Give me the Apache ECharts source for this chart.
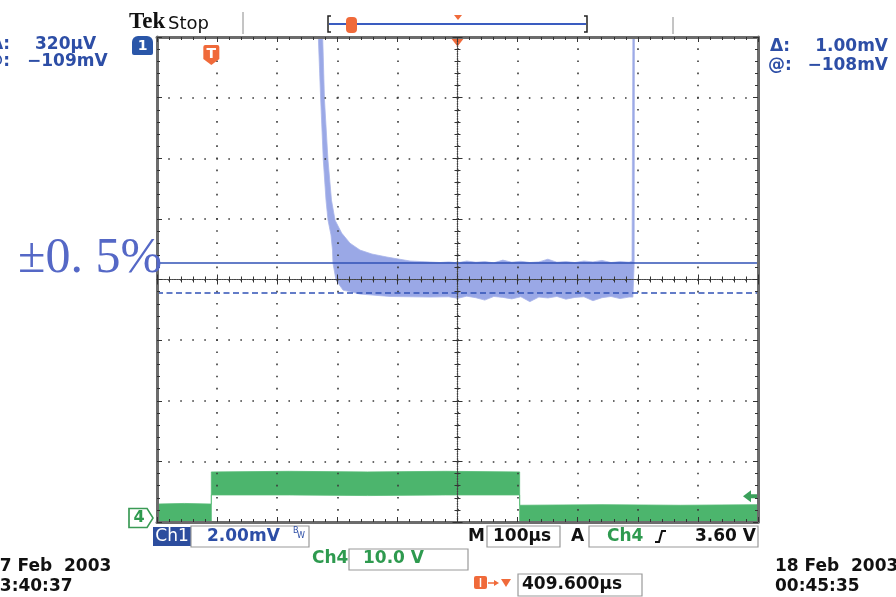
<!DOCTYPE html>
<html>
<head>
<meta charset="utf-8">
<script src="https://cdn.jsdelivr.net/npm/echarts@6/dist/echarts.min.js"></script>
<style>
  html, body { margin: 0; padding: 0; background: #fff; }
  #scope { width: 896px; height: 597px; }
</style>
</head>
<body>
<div id="scope"></div>
<script>
// ---- acquisition settings ----
const horizDelay = 409.6;          // µs from trigger to screen centre
const timePerDiv = 100;            // µs/div
const ch1PerDiv = 2;               // mV/div
const ch4PerDiv = 10;              // V/div
const ch4GroundDiv = -3.934;       // Ch4 ground marker position, div from centre
const triggerTime = 0;             // µs
const triggerLevel = 3.6;          // V on Ch4
const cursorLevels = [0.56, -0.44]; // mV, Δ = 1.00 mV

// ---- Ch1: settling envelope (time µs after trigger, mV) ----
const ch1UpperT = [183.6, 185.3, 188.3, 194.1, 199.9, 205.8, 216.9, 230.7, 247.4, 267.3, 292.3, 330.6, 380.5,
  395, 410, 425, 440, 455, 470, 485, 500, 515, 530, 545, 560, 575, 590, 605, 620, 635, 650, 665, 680, 695,
  700, 701.5];
const ch1UpperMv = [8.6, 8.0, 5.92, 3.94, 2.62, 1.96, 1.53, 1.20, 0.97, 0.84, 0.74, 0.61, 0.56,
  0.58, 0.55, 0.61, 0.57, 0.59, 0.55, 0.64, 0.57, 0.60, 0.56, 0.58, 0.67, 0.57, 0.59, 0.56, 0.61, 0.58, 0.63, 0.56, 0.59, 0.57,
  0.60, 8.6];
const ch1LowerT = [176.1, 178.0, 182.0, 186.3, 190.8, 194.1, 199.1, 201.6, 202.4, 207.4, 219.1, 247.4, 297.3, 363.8,
  395, 410, 425, 440, 455, 470, 485, 500, 515, 530, 545, 560, 575, 590, 605, 620, 635, 650, 665, 680, 695,
  701.5, 703.5, 704];
const ch1LowerMv = [8.6, 8.0, 5.92, 3.94, 2.62, 1.96, 1.47, 0.97, 0.54, -0.02, -0.35, -0.48, -0.56, -0.58,
  -0.57, -0.62, -0.55, -0.60, -0.68, -0.56, -0.59, -0.64, -0.57, -0.73, -0.58, -0.61, -0.56, -0.65, -0.59, -0.57, -0.70, -0.60, -0.56, -0.63, -0.58,
  -0.58, 0.5, 8.6];

// ---- Ch4: gate signal band (time µs after trigger, V) ----
const ch4T     = [-90.4, -45, 0, 0, 130, 260, 390, 513, 513, 650, 780, 909.6];
const ch4Upper = [2.3, 2.4, 2.3, 7.6, 7.7, 7.6, 7.7, 7.6, 2.1, 2.2, 2.1, 2.2];
const ch4Lower = [-1, -1, -1, 3.8, 3.8, 3.7, 3.8, 3.8, -1, -1, -1, -1];

// ---- derived axis ranges ----
const xMin = horizDelay - 5 * timePerDiv;
const xMax = horizDelay + 5 * timePerDiv;
const ch1Min = -4 * ch1PerDiv, ch1Max = 4 * ch1PerDiv;
const ch4Min = (-4 - ch4GroundDiv) * ch4PerDiv;
const ch4Max = ch4Min + 8 * ch4PerDiv;

const FONT = '"DejaVu Sans", sans-serif';
const BLUE_TXT = '#2d4ea6';
const GREEN_TXT = '#2e9a4f';
const ORANGE = '#f06a3a';

function bandRenderer(upT, upV, loT, loV, fill, edge) {
  return function (params, api) {
    const pts = [];
    for (let i = 0; i < upT.length; i++) pts.push(api.coord([upT[i], upV[i]]));
    for (let i = loT.length - 1; i >= 0; i--) pts.push(api.coord([loT[i], loV[i]]));
    return { type: 'polygon', shape: { points: pts }, style: { fill: fill, stroke: edge, lineWidth: 0.8 } };
  };
}

function txt(str, x, y, color, size, opts) {
  opts = opts || {};
  return {
    type: 'text', x: x, y: y, z: 20,
    style: {
      text: str, fill: color,
      font: (opts.weight || 'bold') + ' ' + size + 'px ' + (opts.family || FONT),
      textAlign: opts.align || 'left', textVerticalAlign: 'middle'
    }
  };
}
function box(x, y, w, h) {
  return { type: 'rect', shape: { x: x, y: y, width: w, height: h }, z: 19,
    style: { fill: 'none', stroke: '#9a9a9a', lineWidth: 1.2 } };
}
function seg(points, color, width) {
  return { type: 'polyline', shape: { points: points }, z: 20,
    style: { fill: 'none', stroke: color, lineWidth: width } };
}

// graticule axis helpers (grid 1, in divisions)
const frameLine = { show: true, onZero: false, lineStyle: { color: '#6c6c6c', width: 3 } };
const tickStyle = { color: '#333', width: 1 };
function frameX(pos, split) {
  return {
    gridIndex: 1, type: 'value', min: -5, max: 5, interval: 1, position: pos, z: 5,
    axisLine: frameLine,
    axisTick: { show: true, inside: true, length: 5, lineStyle: tickStyle },
    minorTick: { show: true, splitNumber: 5, length: 3, lineStyle: tickStyle },
    axisLabel: { show: false },
    splitLine: { show: split, lineStyle: { color: '#3a3a3a', width: 1.6, type: [1.6, 10.525], dashOffset: 0.8 } },
    minorSplitLine: { show: false }
  };
}
function frameY(pos, split) {
  return {
    gridIndex: 1, type: 'value', min: -4, max: 4, interval: 1, position: pos, z: 5,
    axisLine: frameLine,
    axisTick: { show: true, inside: true, length: 5, lineStyle: tickStyle },
    minorTick: { show: true, splitNumber: 5, length: 3, lineStyle: tickStyle },
    axisLabel: { show: false },
    splitLine: { show: split, lineStyle: { color: '#3a3a3a', width: 1.6, type: [1.6, 10.42], dashOffset: 0.8 } },
    minorSplitLine: { show: false }
  };
}
const centreLine = { color: '#444', width: 1.2, type: [1.2, 1.3] };
function centreX(pos) {
  return {
    gridIndex: 1, type: 'value', min: -5, max: 5, interval: 1, position: pos, z: 5,
    axisLine: { show: true, onZero: true, onZeroAxisIndex: 2, lineStyle: centreLine },
    axisTick: { show: true, inside: false, length: 5, lineStyle: tickStyle },
    minorTick: { show: true, splitNumber: 5, length: 3, lineStyle: tickStyle },
    axisLabel: { show: false }, splitLine: { show: false }
  };
}
function centreY(pos) {
  return {
    gridIndex: 1, type: 'value', min: -4, max: 4, interval: 1, position: pos, z: 5,
    axisLine: { show: true, onZero: true, onZeroAxisIndex: 1, lineStyle: centreLine },
    axisTick: { show: true, inside: false, length: 5, lineStyle: tickStyle },
    minorTick: { show: true, splitNumber: 5, length: 3, lineStyle: tickStyle },
    axisLabel: { show: false }, splitLine: { show: false }
  };
}

const plotRect = { left: 157, top: 37, width: 601, height: 485, outerBoundsMode: 'none', containLabel: false };

const option = {
  animation: false,
  backgroundColor: '#fff',
  grid: [Object.assign({}, plotRect), Object.assign({}, plotRect)],
  xAxis: [
    { gridIndex: 0, type: 'value', min: xMin, max: xMax, show: false },
    frameX('bottom', true),
    frameX('top', false),
    centreX('bottom'),
    centreX('top')
  ],
  yAxis: [
    { gridIndex: 0, type: 'value', min: ch1Min, max: ch1Max, show: false },
    { gridIndex: 0, type: 'value', min: ch4Min, max: ch4Max, show: false },
    frameY('left', true),
    frameY('right', false),
    centreY('left'),
    centreY('right')
  ],
  series: [
    {
      name: 'Ch4', type: 'custom', xAxisIndex: 0, yAxisIndex: 1, clip: true,
      data: [[0, 0]],
      renderItem: bandRenderer(ch4T, ch4Upper, ch4T, ch4Lower, '#4cb56d', '#56bb75')
    },
    {
      name: 'Ch1', type: 'custom', xAxisIndex: 0, yAxisIndex: 0, clip: true,
      data: [[0, 0]],
      renderItem: bandRenderer(ch1UpperT, ch1UpperMv, ch1LowerT, ch1LowerMv, '#9aa8e6', '#a9b5ea')
    },
    {
      // horizontal cursors, trigger and position markers (Ch1 scale)
      name: 'cursors', type: 'line', xAxisIndex: 0, yAxisIndex: 0, data: [], z: 6,
      markLine: {
        silent: true, symbol: ['none', 'none'], label: { show: false },
        lineStyle: { color: '#3152b6', width: 1.6 },
        data: [
          { yAxis: cursorLevels[0], lineStyle: { type: 'solid' } },
          { yAxis: cursorLevels[1], lineStyle: { type: [6, 3.5] } }
        ]
      },
      markPoint: {
        silent: true,
        data: [
          {
            coord: [triggerTime, ch1Max], symbol: 'path://M2,0 H14 Q16,0 16,2 V14 L8,20 L0,14 V2 Q0,0 2,0 Z',
            symbolSize: [16, 20], symbolKeepAspect: false, symbolOffset: [0, 18], itemStyle: { color: ORANGE },
            label: { show: true, formatter: 'T', color: '#fff', fontWeight: 'bold', fontSize: 14, fontFamily: FONT, offset: [0, -1] }
          },
          {
            coord: [horizDelay, ch1Max], symbol: 'path://M0,0 H14 L7,9 Z',
            symbolSize: [14, 9], symbolKeepAspect: false, symbolOffset: [0, 5], itemStyle: { color: ORANGE }, label: { show: false }
          }
        ]
      }
    },
    {
      // Ch4 ground reference and trigger level markers
      name: 'ch4marks', type: 'line', xAxisIndex: 0, yAxisIndex: 1, data: [], z: 6,
      markPoint: {
        silent: true,
        data: [
          {
            coord: [xMin, 0], symbol: 'path://M0,0 H18 L24,9 L18,18 H0 Z',
            symbolSize: [24, 19], symbolOffset: [-16, 0],
            itemStyle: { color: '#fff', borderColor: '#3a9a55', borderWidth: 1.5 },
            label: { show: true, formatter: '4', color: GREEN_TXT, fontWeight: 'bold', fontSize: 16, fontFamily: FONT, offset: [-2, 0] }
          },
          {
            coord: [xMax, triggerLevel], symbol: 'path://M0,6 L8,0 V4 H14 V8 H8 V12 Z',
            symbolSize: [14, 12], symbolOffset: [-8, 0], itemStyle: { color: '#3aa05a' }, label: { show: false }
          }
        ]
      }
    }
  ],
  graphic: { elements: [
    // header
    txt('Tek', 129, 22, '#111', 23, { family: '"Liberation Serif", serif' }),
    txt('Stop', 168, 24, '#111', 18, { weight: 'normal' }),
    seg([[243, 12], [243, 34]], '#8a8a8a', 1),
    seg([[673, 17], [673, 34]], '#8a8a8a', 1),
    seg([[331, 16], [328, 16], [328, 32], [331, 32]], '#222', 1.5),
    seg([[584, 16], [587, 16], [587, 32], [584, 32]], '#222', 1.5),
    seg([[329, 24], [586, 24]], '#3a5cc0', 2),
    { type: 'rect', shape: { x: 346, y: 17, width: 11, height: 16, r: 4 }, z: 21, style: { fill: ORANGE } },
    seg([[351.5, 20], [351.5, 30]], '#fff', 1.5),
    { type: 'polygon', shape: { points: [[454, 15], [462, 15], [458, 20]] }, z: 20, style: { fill: ORANGE } },
    // Ch1 reference badge (offset above screen)
    { type: 'rect', shape: { x: 132, y: 36, width: 21, height: 19, r: [6, 6, 2, 2] }, z: 20, style: { fill: '#2a56a8' } },
    txt('1', 142.5, 46, '#fff', 14, { align: 'center' }),
    // cursor readouts
    txt('Δ:', 10, 45, BLUE_TXT, 17, { align: 'right' }),
    txt('@:', 10, 62, BLUE_TXT, 17, { align: 'right' }),
    txt('320µV', 35, 45, BLUE_TXT, 17),
    txt('\u2212109mV', 27, 62, BLUE_TXT, 17),
    txt('Δ:', 770, 47, BLUE_TXT, 17),
    txt('@:', 768, 66, BLUE_TXT, 17),
    txt('1.00mV', 888, 47, BLUE_TXT, 17, { align: 'right' }),
    txt('\u2212108mV', 888, 66, BLUE_TXT, 17, { align: 'right' }),
    // tolerance annotation
    txt('±0. 5%', 18, 259, '#5568c6', 50, { weight: 'normal', family: '"Liberation Serif", serif' }),
    // settings bar
    { type: 'rect', shape: { x: 153, y: 527, width: 38, height: 19 }, z: 19, style: { fill: '#2c4d9e' } },
    txt('Ch1', 172, 536.5, '#fff', 17, { align: 'center', weight: 'normal' }),
    box(191, 526, 118, 21),
    txt('2.00mV', 207, 536.5, BLUE_TXT, 17),
    txt('B', 293, 531, BLUE_TXT, 8, { weight: 'normal' }),
    txt('W', 297, 536, BLUE_TXT, 8, { weight: 'normal' }),
    txt('M', 468, 536.5, '#111', 17),
    box(487, 526, 73, 21),
    txt('100µs', 493, 536.5, '#111', 17),
    txt('A', 571, 536.5, '#111', 17),
    box(589, 526, 169, 21),
    txt('Ch4', 607, 536.5, GREEN_TXT, 17),
    seg([[655, 542], [659, 542], [662, 531], [666, 531]], '#111', 2),
    txt('3.60 V', 756, 536.5, '#111', 17, { align: 'right' }),
    txt('Ch4', 312, 559, GREEN_TXT, 17),
    box(349, 549, 119, 21),
    txt('10.0 V', 363, 559, GREEN_TXT, 17),
    { type: 'rect', shape: { x: 474, y: 576, width: 13, height: 13, r: 2 }, z: 20, style: { fill: ORANGE } },
    seg([[480.5, 578], [480.5, 587]], '#fff', 1.5),
    seg([[488, 583], [497, 583]], ORANGE, 1.5),
    { type: 'polygon', shape: { points: [[494, 580], [499, 583], [494, 586]] }, z: 20, style: { fill: ORANGE } },
    { type: 'polygon', shape: { points: [[501, 579], [511, 579], [506, 587]] }, z: 20, style: { fill: ORANGE } },
    box(518, 574, 124, 22),
    txt('409.600µs', 522, 585, '#111', 17),
    // timestamps
    txt('17 Feb  2003', -12, 567, '#111', 17),
    txt('23:40:37', -12, 587, '#111', 17),
    txt('18 Feb  2003', 775, 567, '#111', 17),
    txt('00:45:35', 775, 587, '#111', 17)
  ] }
};

const chart = echarts.init(document.getElementById('scope'), null, { renderer: 'canvas' });
chart.setOption(option);
</script>
</body>
</html>
